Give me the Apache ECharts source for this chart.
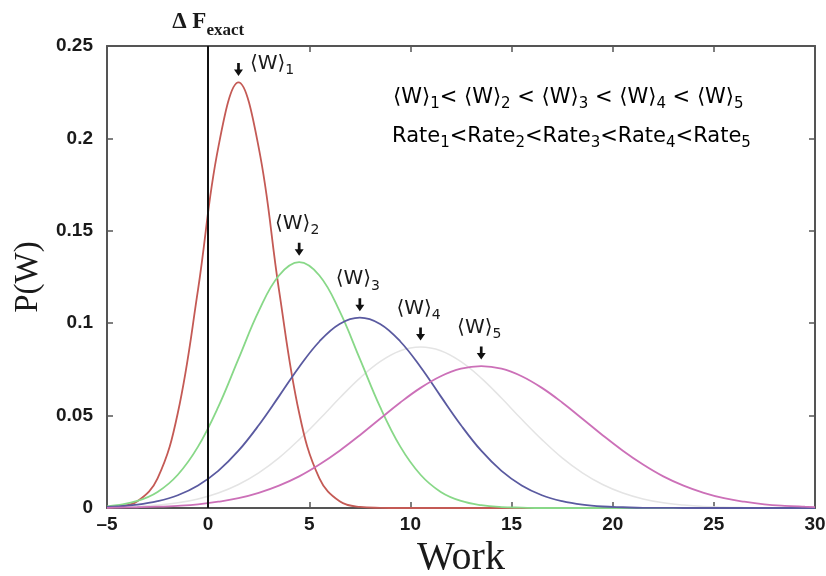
<!DOCTYPE html>
<html>
<head>
<meta charset="utf-8">
<script src="https://cdn.jsdelivr.net/npm/echarts@6/dist/echarts.min.js"></script>
<style>html,body{margin:0;padding:0;background:#fff;}#c{width:826px;height:576px;}</style>
</head>
<body>
<div id="c"></div>
<script>
const work = [-5, -4.5, -3.5, -2.5, -1.5, -0.5, 0.5, 1.5, 2.5, 3.5, 4.5, 5.5, 6.5, 7.5, 8.5, 9.5, 10.5, 11.5, 12.5, 13.5, 14.5, 15.5, 16.5, 17.5, 18.5, 19.5, 20.5, 21.5, 22.5, 23.5, 24.5, 25.5, 26.5, 27.5, 28.5, 29.5, 30];
const p1 = [0.0002, 0.0006, 0.0036, 0.0160, 0.0514, 0.1182, 0.1950, 0.2303, 0.1950, 0.1182, 0.0514, 0.0160, 0.0036, 0.0006, 0.0001, 0, 0, 0, 0, 0, 0, 0, 0, 0, 0, 0, 0, 0, 0, 0, 0, 0, 0, 0, 0, 0, 0];
const p2 = [0.0009, 0.0015, 0.0038, 0.0087, 0.0180, 0.0332, 0.0547, 0.0807, 0.1065, 0.1258, 0.1330, 0.1258, 0.1065, 0.0807, 0.0547, 0.0332, 0.0180, 0.0087, 0.0038, 0.0015, 0.0005, 0.0002, 0, 0, 0, 0, 0, 0, 0, 0, 0, 0, 0, 0, 0, 0, 0];
const p3 = [0.0006, 0.0008, 0.0018, 0.0037, 0.0069, 0.0122, 0.0201, 0.0310, 0.0448, 0.0604, 0.0763, 0.0901, 0.0996, 0.1030, 0.0996, 0.0901, 0.0763, 0.0604, 0.0448, 0.0310, 0.0201, 0.0122, 0.0069, 0.0037, 0.0018, 0.0008, 0.0004, 0.0001, 0.0001, 0, 0, 0, 0, 0, 0, 0, 0];
const p4 = [0.0003, 0.0004, 0.0008, 0.0016, 0.0028, 0.0049, 0.0081, 0.0127, 0.0190, 0.0271, 0.0370, 0.0480, 0.0595, 0.0703, 0.0792, 0.0851, 0.0871, 0.0851, 0.0792, 0.0703, 0.0595, 0.0480, 0.0370, 0.0271, 0.0190, 0.0127, 0.0081, 0.0049, 0.0028, 0.0016, 0.0008, 0.0004, 0.0002, 0.0001, 0, 0, 0];
const p5 = [0.0001, 0.0002, 0.0004, 0.0007, 0.0012, 0.0020, 0.0034, 0.0053, 0.0082, 0.0121, 0.0171, 0.0235, 0.0310, 0.0394, 0.0483, 0.0571, 0.0650, 0.0713, 0.0754, 0.0768, 0.0754, 0.0713, 0.0650, 0.0571, 0.0483, 0.0394, 0.0310, 0.0235, 0.0171, 0.0121, 0.0082, 0.0053, 0.0034, 0.0020, 0.0012, 0.0007, 0.0005];
const meanWork = [1.5, 4.5, 7.5, 10.5, 13.5];
const peakP = [0.2303, 0.1330, 0.1030, 0.0871, 0.0768];
const deltaF = 0;
const xTicks = {min: -5, max: 30, interval: 5};
const yTicks = {min: 0, max: 0.25, interval: 0.05};

const curves = [p1, p2, p3, p4, p5];
const colors = ['#c45a55', '#88d888', '#5a5aa0', '#e4e4e4', '#cc70b8'];
const sans = 'DejaVu Sans, Liberation Sans, sans-serif';
const tickFont = 'Liberation Sans, Arial, sans-serif';
const serif = 'Liberation Serif, Times New Roman, DejaVu Serif, serif';

const chart = echarts.init(document.getElementById('c'), null, {renderer: 'canvas'});

const wRich = {
  w: {fontFamily: sans, fontSize: 20, color: '#1a1a1a', lineHeight: 24, verticalAlign: 'top'},
  s: {fontFamily: sans, fontSize: 14, color: '#1a1a1a', lineHeight: 24, verticalAlign: 'top', padding: [10, 0, 0, 0]}
};
const topRich = {
  w: {fontFamily: sans, fontSize: 21, color: '#1a1a1a', lineHeight: 25, verticalAlign: 'top'},
  s: {fontFamily: sans, fontSize: 15, color: '#1a1a1a', lineHeight: 25, verticalAlign: 'top', padding: [10, 0, 0, 0]}
};

const lineSeries = curves.map((c, i) => ({
  type: 'line',
  data: work.map((x, j) => [x, c[j]]),
  smooth: 0.4,
  symbol: 'none',
  lineStyle: {color: colors[i], width: i === 3 ? 1.5 : 1.8},
  z: i === 3 ? 1 : 3,
  silent: true
}));

const arrowItems = meanWork.map((m, i) => ({
  value: [m, peakP[i]],
  label: i === 0
    ? {position: 'right', offset: [2, -4]}
    : {position: 'top', offset: [-2, 0]}
}));

const option = {
  animation: false,
  backgroundColor: '#fff',
  grid: {left: 107, right: 11, top: 46, bottom: 68, containLabel: false, outerBoundsMode: 'none'},
  xAxis: [{
    type: 'value', min: xTicks.min, max: xTicks.max, interval: xTicks.interval,
    name: 'Work', nameLocation: 'middle', nameGap: 28,
    nameTextStyle: {fontFamily: serif, fontSize: 40, color: '#1a1a1a'},
    axisLine: {show: true, onZero: false, lineStyle: {color: '#555', width: 2}},
    axisTick: {show: true, inside: true, length: 6, lineStyle: {color: '#555', width: 1.5}},
    axisLabel: {fontFamily: tickFont, fontSize: 19, fontWeight: 'bold', color: '#1a1a1a', margin: 7,
      formatter: v => String(v).replace('-', '\u2013')},
    splitLine: {show: false}
  }, {
    type: 'value', position: 'top', min: xTicks.min, max: xTicks.max, interval: xTicks.interval,
    axisLine: {show: true, onZero: false, lineStyle: {color: '#555', width: 2}},
    axisTick: {show: true, inside: true, length: 6, lineStyle: {color: '#555', width: 1.5}},
    axisLabel: {show: false}, splitLine: {show: false}
  }],
  yAxis: [{
    type: 'value', min: yTicks.min, max: yTicks.max, interval: yTicks.interval,
    name: 'P(W)', nameLocation: 'middle', nameGap: 60,
    nameTextStyle: {fontFamily: serif, fontSize: 33, color: '#1a1a1a'},
    axisLine: {show: true, onZero: false, lineStyle: {color: '#555', width: 2}},
    axisTick: {show: true, inside: true, length: 6, lineStyle: {color: '#555', width: 1.5}},
    axisLabel: {fontFamily: tickFont, fontSize: 19, fontWeight: 'bold', color: '#1a1a1a', margin: 14},
    splitLine: {show: false}
  }, {
    type: 'value', position: 'right', min: yTicks.min, max: yTicks.max, interval: yTicks.interval,
    axisLine: {show: true, onZero: false, lineStyle: {color: '#555', width: 2}},
    axisTick: {show: true, inside: true, length: 6, lineStyle: {color: '#555', width: 1.5}},
    axisLabel: {show: false}, splitLine: {show: false}
  }],
  series: lineSeries.concat([{
    type: 'line',
    data: [],
    markLine: {
      silent: true,
      symbol: 'none',
      lineStyle: {color: '#111', width: 2, type: 'solid'},
      label: {
        show: true, position: 'end', distance: 9,
        formatter: '{d|\u0394 F}{e|exact}',
        rich: {
          d: {fontFamily: serif, fontSize: 23, fontWeight: 'bold', color: '#1a1a1a', lineHeight: 26, verticalAlign: 'top'},
          e: {fontFamily: serif, fontSize: 17, fontWeight: 'bold', color: '#1a1a1a', lineHeight: 26, verticalAlign: 'top', padding: [11, 0, 0, 0]}
        }
      },
      data: [{xAxis: deltaF}]
    }
  }, {
    type: 'scatter',
    data: arrowItems,
    symbol: 'path://M3.5,0 L6.5,0 L6.5,6 L10,6 L5,12 L0,6 L3.5,6 Z',
    symbolSize: [9, 13],
    symbolOffset: [0, -13],
    itemStyle: {color: '#111', opacity: 1},
    silent: true,
    z: 5,
    label: {
      show: true,
      color: '#1a1a1a',
      formatter: p => '{w|\u27E8W\u27E9}{s|' + (p.dataIndex + 1) + '}',
      rich: wRich
    }
  }]),
  graphic: [{
    type: 'text', left: 393, top: 87,
    style: {
      text: '{w|\u27E8W\u27E9}{s|1}{w|< \u27E8W\u27E9}{s|2}{w| < \u27E8W\u27E9}{s|3}{w| < \u27E8W\u27E9}{s|4}{w| < \u27E8W\u27E9}{s|5}',
      rich: topRich
    }
  }, {
    type: 'text', left: 392, top: 126,
    style: {
      text: '{w|Rate}{s|1}{w|<Rate}{s|2}{w|<Rate}{s|3}{w|<Rate}{s|4}{w|<Rate}{s|5}',
      rich: topRich
    }
  }]
};
chart.setOption(option);
</script>
</body>
</html>
